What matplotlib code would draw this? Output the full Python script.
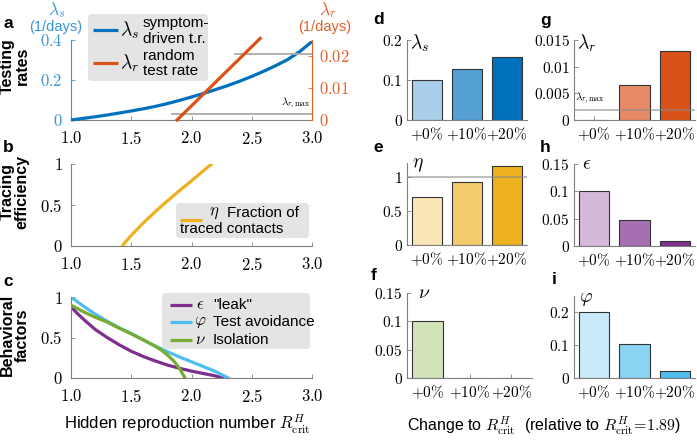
import matplotlib
matplotlib.use('Agg')
import matplotlib.pyplot as plt
from matplotlib.patches import FancyBboxPatch

plt.rcParams['font.family'] = ['Liberation Sans', 'DejaVu Sans']
plt.rcParams['mathtext.fontset'] = 'cm'

# ---------------- data ----------------
# panel a
ls_x = [1.0, 1.1, 1.2, 1.3, 1.4, 1.5, 1.6, 1.7, 1.8, 1.9, 2.0,
        2.1, 2.2, 2.3, 2.4, 2.5, 2.6, 2.7, 2.8, 2.9, 3.0]
ls_y = [0.0, 0.008, 0.016, 0.025, 0.035, 0.045, 0.056, 0.068, 0.082, 0.098, 0.115,
        0.133, 0.152, 0.172, 0.194, 0.218, 0.244, 0.272, 0.303, 0.343, 0.392]
lr_x = [1.88, 2.57]
lr_y = [0.0, 0.0255]
lr_max = 0.0019
lr_max_x = [1.84, 3.0]
lr_upper = 0.0205
lr_upper_x = [2.36, 3.0]
# panel b
eta_x = [1.426, 1.45, 1.5, 1.6, 1.7, 1.8, 1.9, 2.0, 2.1, 2.167]
eta_y = [0.0, 0.045, 0.13, 0.28, 0.42, 0.55, 0.675, 0.795, 0.92, 1.0]
# panel c
eps_x = [1.0, 1.05, 1.1, 1.2, 1.3, 1.4, 1.5, 1.6, 1.7, 1.8, 1.9, 2.0, 2.1, 2.2, 2.26]
eps_y = [0.88, 0.8, 0.73, 0.6, 0.5, 0.41, 0.33, 0.265, 0.21, 0.16, 0.12, 0.085, 0.055, 0.025, 0.0]
phi_x = [1.0, 1.1, 1.2, 1.3, 1.4, 1.5, 1.6, 1.7, 1.8, 1.9, 2.0, 2.1, 2.2, 2.305]
phi_y = [1.0, 0.89, 0.79, 0.7, 0.62, 0.55, 0.47, 0.395, 0.325, 0.26, 0.2, 0.14, 0.08, 0.0]
nu_x = [1.0, 1.1, 1.2, 1.3, 1.4, 1.5, 1.6, 1.7, 1.75, 1.8, 1.85, 1.9, 1.946]
nu_y = [0.9, 0.82, 0.75, 0.69, 0.615, 0.545, 0.47, 0.39, 0.345, 0.285, 0.215, 0.12, 0.0]
x_ticks = [1.0, 1.5, 2.0, 2.5, 3.0]

# bar panels
cats = ['+0%', '+10%', '+20%']
d_vals = [0.1, 0.127, 0.158]
g_vals = [0.0, 0.0065, 0.013]
e_vals = [0.7, 0.92, 1.15]
h_vals = [0.1, 0.048, 0.01]
f_vals = [0.1, 0.0, 0.0]
i_vals = [0.2, 0.105, 0.02]

BLUE = '#0072BD'
LBLUE_AX = '#3A96D8'
ORANGE = '#D95319'
ORANGE_AX = '#E3602A'
YEL = '#EDB120'
PURP = '#7E2F8E'
CYAN = '#4DBEEE'
GREEN = '#77AC30'
SPINE = '#808080'
BOXC = '#E4E4E4'

W, H = 697, 442
fig = plt.figure(figsize=(W/100, H/100), dpi=100)


def ax_px(l, t, r, b):
    return fig.add_axes([l/W, 1-b/H, (r-l)/W, (b-t)/H])


def style(ax, fs=12, xpad=7, ypad=6):
    for s in ['top', 'right']:
        ax.spines[s].set_visible(False)
    for s in ['left', 'bottom']:
        ax.spines[s].set_color(SPINE)
        ax.spines[s].set_linewidth(0.8)
    ax.tick_params(direction='in', length=3, width=0.6, color=SPINE,
                   labelsize=fs)
    ax.tick_params(axis='x', pad=xpad)
    ax.tick_params(axis='y', pad=ypad)


def mlab(vals, fmt):
    return ['$' + fmt(v) + '$' for v in vals]


# ---------- panel a ----------
axa = ax_px(71, 40, 312, 120)
style(axa)
axa.plot(ls_x, ls_y, color=BLUE, lw=2.3, solid_capstyle='butt', clip_on=False, zorder=3)
axa.set_xlim(1.0, 3.0)
axa.set_ylim(0, 0.4)
axa.set_yticks([0, 0.2, 0.4])
axa.set_yticklabels(['$0$', '$0.2$', '$0.4$'])
axa.spines['left'].set_color(LBLUE_AX)
axa.tick_params(axis='y', colors=LBLUE_AX)
axa.set_xticks(x_ticks)
axa.set_xticklabels(mlab(x_ticks, lambda v: f'{v:.1f}'))
axr = axa.twinx()
axr.set_position(axa.get_position())
for s in ['top', 'left', 'bottom']:
    axr.spines[s].set_visible(False)
axr.spines['right'].set_color(ORANGE_AX)
axr.spines['right'].set_linewidth(0.8)
axr.tick_params(direction='in', length=3, width=0.6, colors=ORANGE_AX, labelsize=12, pad=5)
axr.plot(lr_max_x, [lr_max, lr_max], color='#AAAAAA', lw=1.3)
axr.plot(lr_upper_x, [lr_upper, lr_upper], color='#AAAAAA', lw=1.3)
axr.plot(lr_x, lr_y, color=ORANGE, lw=2.3, clip_on=False)
axr.set_ylim(0, 0.025)
axr.set_yticks([0, 0.01, 0.02])
axr.set_yticklabels(['$0$', '$0.01$', '$0.02$'])
axr.text(2.99, lr_max + 0.0008, r'$\lambda_{r,\max}$', fontsize=8, ha='right', va='bottom')

# ---------- panel b ----------
axb = ax_px(71, 164, 312, 246)
style(axb)
axb.plot(eta_x, eta_y, color=YEL, lw=2.3)
axb.set_xlim(1.0, 3.0)
axb.set_ylim(0, 1.0)
axb.set_yticks([0, 0.5, 1])
axb.set_yticklabels(['$0$', '$0.5$', '$1$'])
axb.set_xticks(x_ticks)
axb.set_xticklabels(mlab(x_ticks, lambda v: f'{v:.1f}'))

# ---------- panel c ----------
axc = ax_px(71, 297, 312, 378)
style(axc)
axc.plot(eps_x, eps_y, color=PURP, lw=2.3, zorder=2)
axc.plot(phi_x, phi_y, color=CYAN, lw=2.3, zorder=2.5)
axc.plot(nu_x, nu_y, color=GREEN, lw=2.3, zorder=3)
axc.set_xlim(1.0, 3.0)
axc.set_ylim(0, 1.0)
axc.set_yticks([0, 0.5, 1])
axc.set_yticklabels(['$0$', '$0.5$', '$1$'])
axc.set_xticks(x_ticks)
axc.set_xticklabels(mlab(x_ticks, lambda v: f'{v:.1f}'))


# ---------- bar panels ----------
def bar_panel(rect, vals, colors, ylim, yticks, ylabels, hline=None):
    ax = ax_px(*rect)
    style(ax, fs=11, xpad=4, ypad=3)
    ax.bar(range(len(cats)), vals, width=0.75, color=colors,
           edgecolor='#333333', linewidth=0.8, zorder=2)
    if hline is not None:
        ax.axhline(hline, color='#888888', alpha=0.6, lw=1.3, zorder=3)
    ax.set_xlim(-0.5, 2.5)
    ax.set_ylim(*ylim)
    ax.set_yticks(yticks)
    ax.set_yticklabels(ylabels)
    ax.set_xticks(range(len(cats)))
    ax.set_xticklabels(['$' + c.replace('%', r'\%') + '$' for c in cats])
    return ax


bar_panel((407, 40, 527, 120), d_vals, ['#A9CFEB', '#549FD4', '#0070BB'],
          (0, 0.2), [0, 0.1, 0.2], ['$0$', '$0.1$', '$0.2$'])
axg = bar_panel((574, 40, 695, 120), g_vals, ['#F0B8A0', '#E68A66', '#D95319'],
                (0, 0.015), [0, 0.005, 0.01, 0.015],
                ['$0$', '$0.005$', '$0.01$', '$0.015$'], hline=lr_max)
axg.text(-0.47, lr_max + 0.0007, r'$\lambda_{r,\max}$', fontsize=8, ha='left', va='bottom')
bar_panel((407, 163, 527, 245), e_vals, ['#FAE5B6', '#F4CC6C', '#EDB120'],
          (0, 1.2), [0, 0.5, 1], ['$0$', '$0.5$', '$1$'], hline=1.0)
bar_panel((574, 164, 695, 246), h_vals, ['#D5B9DA', '#A66FB1', '#7E2F8E'],
          (0, 0.15), [0, 0.05, 0.1, 0.15], ['$0$', '$0.05$', '$0.1$', '$0.15$'])
bar_panel((407, 293, 532, 378), f_vals, ['#D3E4B9', '#A8CA7A', '#77AC30'],
          (0, 0.15), [0, 0.05, 0.1, 0.15], ['$0$', '$0.05$', '$0.1$', '$0.15$'])
bar_panel((574, 296, 695, 378), i_vals, ['#C8EAF9', '#89D4F3', '#4DBEEE'],
          (0, 0.25), [0, 0.1, 0.2], ['$0$', '$0.1$', '$0.2$'])

# ---------- overlay for annotations ----------
ov = fig.add_axes([0, 0, 1, 1])
ov.set_xlim(0, W)
ov.set_ylim(H, 0)
ov.axis('off')


def box(x0, y0, x1, y1):
    ov.add_patch(FancyBboxPatch((x0, y0), x1-x0, y1-y0,
                                boxstyle='round,pad=0,rounding_size=4',
                                facecolor=BOXC, edgecolor='none', zorder=1))


def hl(x0, x1, y, c):
    ov.plot([x0, x1], [y, y], color=c, lw=2.3, solid_capstyle='butt', zorder=2)


LFS = 11
# legend a
box(88, 14, 208, 81)
hl(93, 118, 30, BLUE)
ov.text(120, 30, r'$\lambda_s$', fontsize=14, va='center', ha='left')
ov.text(143, 23, 'symptom-', fontsize=LFS, va='center')
ov.text(143, 39, 'driven t.r.', fontsize=LFS, va='center')
hl(93, 118, 63, ORANGE)
ov.text(120, 63, r'$\lambda_r$', fontsize=14, va='center', ha='left')
ov.text(143, 56, 'random', fontsize=LFS, va='center')
ov.text(143, 71, 'test rate', fontsize=LFS, va='center')

# legend b
box(176, 203, 309, 238)
hl(180, 202, 220, YEL)
ov.text(214, 213, r'$\eta$', fontsize=12, va='center', ha='center')
ov.text(227, 213, 'Fraction of', fontsize=LFS, va='center')
ov.text(180, 229, 'traced contacts', fontsize=LFS, va='center')

# legend c
box(162, 293, 310, 349)
for y, c, sym, lab in [(305, PURP, r'$\epsilon$', '"leak"'),
                       (322, CYAN, r'$\varphi$', 'Test avoidance'),
                       (340, GREEN, r'$\nu$', 'Isolation')]:
    hl(170, 192, y, c)
    ov.text(200, y, sym, fontsize=12, va='center', ha='center')
    ov.text(213, y, lab, fontsize=LFS, va='center')

# axis unit labels panel a
ov.text(57, 15, r'$\lambda_s$', fontsize=12.5, color=LBLUE_AX, ha='center', va='baseline')
ov.text(56, 27, '(1/days)', fontsize=10.5, color=LBLUE_AX, ha='center', va='center')
ov.text(328, 15, r'$\lambda_r$', fontsize=12.5, color=ORANGE_AX, ha='center', va='baseline')
ov.text(325, 27, '(1/days)', fontsize=10.5, color=ORANGE_AX, ha='center', va='center')

# row labels
for y, lab in [(66, 'Testing\nrates'), (192, 'Tracing\nefficiency'),
               (335, 'Behavioral\nfactors')]:
    ov.text(15, y, lab, fontsize=11.5, fontweight='bold', rotation=90,
            ha='center', va='center', linespacing=0.95, multialignment='center')

# panel letters
for x, y, l in [(3, 23, 'a'), (3, 148, 'b'), (3, 281, 'c'),
                (373, 20, 'd'), (540, 21, 'g'), (373, 148, 'e'),
                (540, 148, 'h'), (371, 276, 'f'), (552, 280, 'i')]:
    ov.text(x, y, l, fontsize=12.5, fontweight='bold', ha='left', va='center')

# bar panel symbols
for x, y, s in [(410, 43, r'$\lambda_s$'), (577, 43, r'$\lambda_r$'),
                (412, 165, r'$\eta$'), (582, 165, r'$\epsilon$'),
                (418, 294, r'$\nu$'), (579, 300, r'$\varphi$')]:
    ov.text(x, y, s, fontsize=14, ha='left', va='center')

# x labels
ov.text(187, 424, r'Hidden reproduction number $R^{H}_{\mathrm{crit}}$',
        fontsize=12, ha='center', va='center')
ov.text(544, 426, r'Change to $R^{H}_{\mathrm{crit}}$  (relative to $R^{H}_{\mathrm{crit}}\!=\!1.89$)',
        fontsize=11.5, ha='center', va='center')

fig.savefig('out.png', dpi=100)
